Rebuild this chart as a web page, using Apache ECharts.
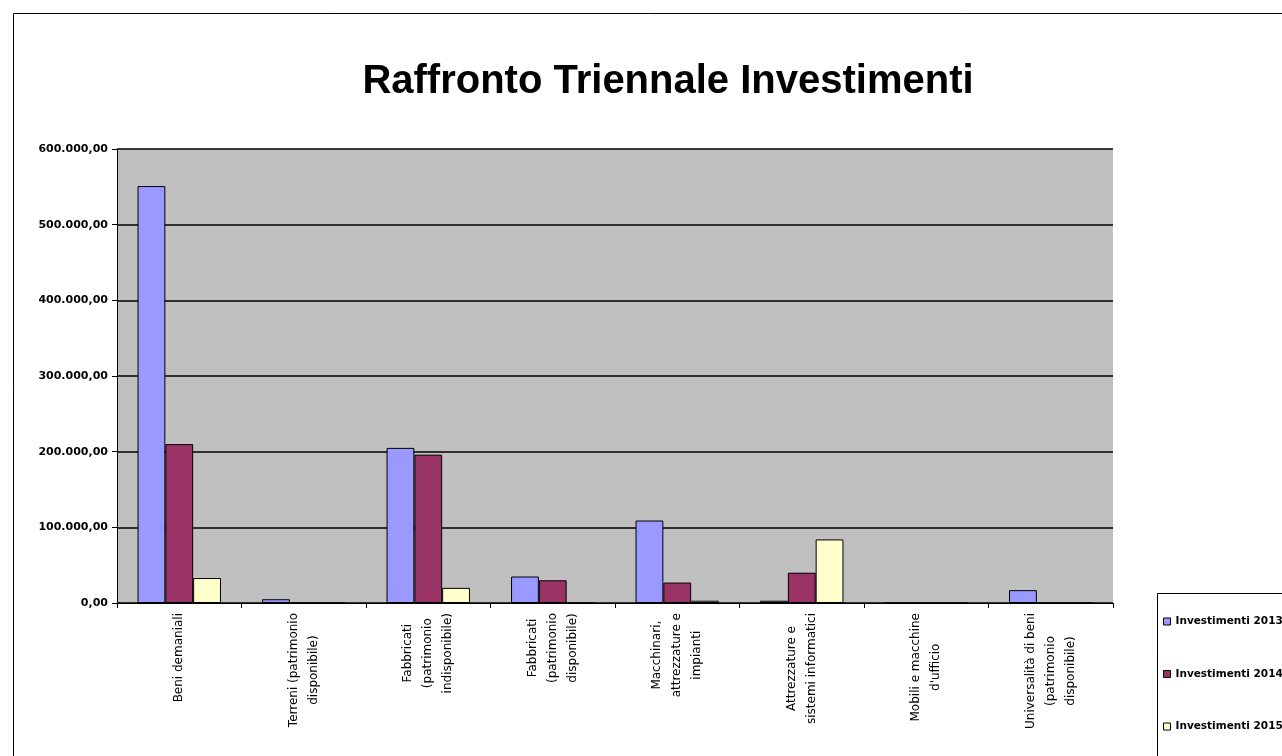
<!DOCTYPE html>
<html><head><meta charset="utf-8">
<script src="https://cdn.jsdelivr.net/npm/echarts@6/dist/echarts.min.js"></script>
<style>html,body{margin:0;padding:0;background:#fff}#c{width:1282px;height:756px}</style>
</head><body><div id="c"></div>
<script>
const categories = [
  "Beni demaniali",
  "Terreni (patrimonio\ndisponibile)",
  "Fabbricati\n(patrimonio\nindisponibile)",
  "Fabbricati\n(patrimonio\ndisponibile)",
  "Macchinari,\nattrezzature e\nimpianti",
  "Attrezzature e\nsistemi informatici",
  "Mobili e macchine\nd'ufficio",
  "Universalità di beni\n(patrimonio\ndisponibile)"
];
const seriesNames = ["Investimenti 2013", "Investimenti 2014", "Investimenti 2015"];
const inv2013 = [551000, 5000, 205000, 35000, 109000, 3000, 0, 17000];
const inv2014 = [210000, 0, 196000, 30000, 27000, 40000, 0, 0];
const inv2015 = [33000, 0, 20000, 0, 3000, 84000, 0, 0];
const colors = ["#9999FF", "#993366", "#FFFFCC"];

function fmt(v){
  const s = Math.round(v).toString().replace(/\B(?=(\d{3})+(?!\d))/g, ".");
  return s + ",00";
}

const chart = echarts.init(document.getElementById('c'), null, {renderer:'canvas'});
const data = [inv2013, inv2014, inv2015];
chart.setOption({
  animation:false,
  backgroundColor:'#fff',
  title:{text:'Raffronto Triennale Investimenti', left:663, top:57, textAlign:'center',
    textStyle:{fontFamily:'Liberation Sans, Arial', fontSize:40, fontWeight:'bold', color:'#000'}},
  graphic:[
    {type:'rect', shape:{x:13.5,y:13.5,width:1300,height:800}, style:{fill:'none', stroke:'#000', lineWidth:1}, z:-1},
    {type:'rect', shape:{x:1157.5,y:593.5,width:200,height:200}, style:{fill:'#fff', stroke:'#000', lineWidth:1}, z:-1}
  ],
  legend:{orient:'vertical', left:1163, top:616, padding:0, itemWidth:7, itemHeight:7, itemGap:41.5,
    icon:'rect', data:seriesNames,
    itemStyle:{borderColor:'#000', borderWidth:1},
    textStyle:{fontFamily:'DejaVu Sans', fontSize:10.5, fontWeight:'bold', color:'#000'}},
  grid:{left:117, top:149, width:996, height:454, show:true, backgroundColor:'#C0C0C0', borderWidth:0},
  xAxis:{type:'category', data:categories,
    axisLine:{lineStyle:{color:'#000', width:1}},
    axisTick:{show:true, length:5, lineStyle:{color:'#000'}},
    axisLabel:{rotate:90, margin:10, interval:0, color:'#000', fontFamily:'DejaVu Sans', fontSize:12, lineHeight:20,
      formatter: v => v.split('\n').map(l => '{c|' + l + '}').join('\n'),
      rich:{c:{align:'center', fontFamily:'DejaVu Sans', fontSize:12, lineHeight:20, color:'#000'}}}},
  yAxis:{type:'value', min:0, max:600000, interval:100000,
    axisLine:{show:true, lineStyle:{color:'#000', width:1}},
    axisTick:{show:true, length:5, lineStyle:{color:'#000'}},
    splitLine:{lineStyle:{color:'#000', width:1.5}},
    axisLabel:{formatter:fmt, margin:9, color:'#000', fontFamily:'DejaVu Sans', fontSize:11, fontWeight:'bold'}},
  series: seriesNames.map((n,i)=>({
    name:n, type:'bar', data:data[i], barGap:'0%', barCategoryGap:'33%',
    itemStyle:{color:colors[i], borderColor:'#000', borderWidth:1}
  }))
});
</script></body></html>
